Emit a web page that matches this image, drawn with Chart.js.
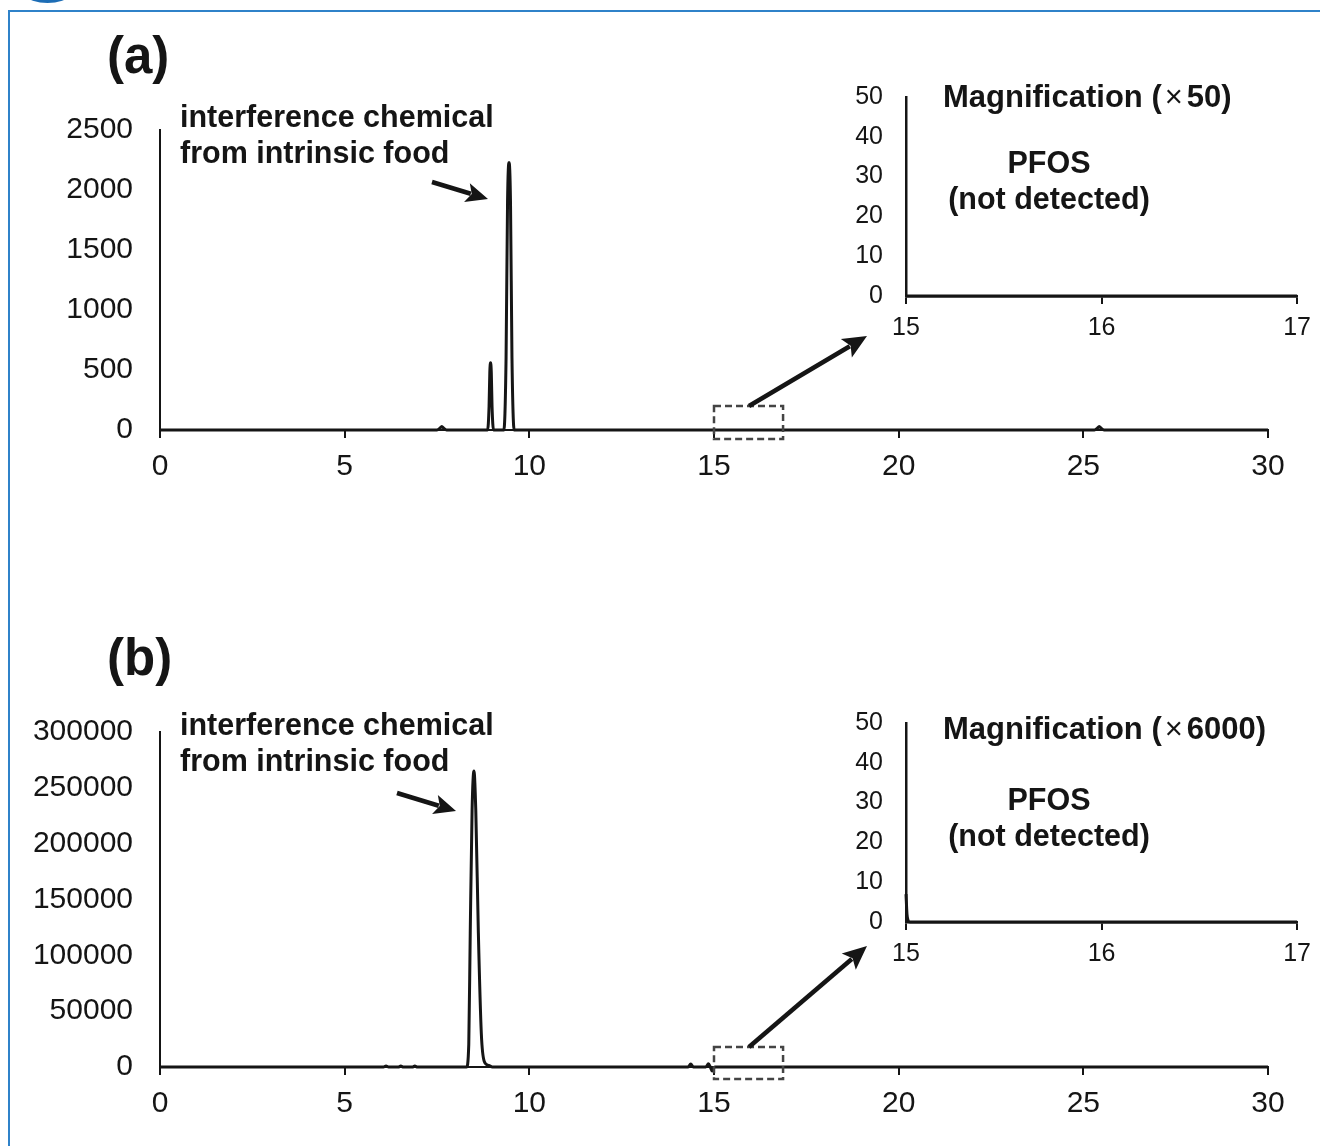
<!DOCTYPE html>
<html>
<head>
<meta charset="utf-8">
<script src="https://cdn.jsdelivr.net/npm/chart.js@4.4.1/dist/chart.umd.min.js"></script>
<style>
  html, body { margin: 0; padding: 0; background: #fff; }
  body { width: 1320px; height: 1146px; position: relative; overflow: hidden; }
  canvas { position: absolute; left: 0; top: 0; }
  #frame { position: absolute; left: 8px; top: 10px; width: 1400px; height: 1200px;
           border-left: 2px solid #2f82c9; border-top: 2px solid #2f82c9; }
  #blob { position: absolute; left: 28px; top: -10px; width: 39px; height: 13px;
          border-radius: 50%; background: #1d6db5; }
</style>
</head>
<body>
<div id="frame"></div>
<div id="blob"></div>
<canvas id="mainA" width="1320" height="1146"></canvas>
<canvas id="insetA" width="1320" height="1146"></canvas>
<canvas id="mainB" width="1320" height="1146"></canvas>
<canvas id="insetB" width="1320" height="1146"></canvas>
<script>
const FONT = '"Liberation Sans", Arial, sans-serif';
const INK = '#151515';

// tick labels
const xTicksMain = [0, 5, 10, 15, 20, 25, 30];
const xTicksInset = [15, 16, 17];
const yTicksA = [0, 500, 1000, 1500, 2000, 2500];
const yTicksB = [0, 50000, 100000, 150000, 200000, 250000, 300000];
const yTicksInset = [0, 10, 20, 30, 40, 50];

// (a) chromatogram, retention time (min) / intensity
const timeA = [0, 7.5, 7.58, 7.63, 7.68, 7.76, 8.87, 8.91, 8.93, 8.95, 8.97, 8.99, 9.03,
               9.31, 9.37, 9.41, 9.45, 9.49, 9.53, 9.59, 25.3, 25.38, 25.43, 25.48, 25.56, 30];
const intensityA = [0, 0, 15, 30, 15, 0, 0, 200, 480, 560, 480, 200, 0,
                    0, 600, 1900, 2230, 1900, 600, 0, 0, 15, 30, 15, 0, 0];

// (a) magnified window 15-17 min
const timeInsetA = [15, 16, 17];
const intensityInsetA = [0, 0, 0];

// (b) chromatogram
const timeB = [0, 6.05, 6.12, 6.19, 6.45, 6.52, 6.59, 6.83, 6.9, 6.97,
               8.3, 8.36, 8.4, 8.45, 8.5, 8.55, 8.62, 8.7, 8.78, 8.9, 9.0,
               14.3, 14.37, 14.44, 14.78, 14.85, 14.9, 14.95, 15.02, 30];
const intensityB = [0, 0, 900, 0, 0, 800, 0, 0, 800, 0,
                    0, 20000, 120000, 230000, 265000, 230000, 120000, 30000, 5000, 1500, 0,
                    0, 2700, 0, 0, 3000, 0, -3500, 0, 0];

// (b) magnified window 15-17 min
const timeInsetB = [15, 15.005, 15.01, 15.02, 16, 17];
const intensityInsetB = [7, 2, 0.5, 0, 0, 0];

function trace(times, values) {
  return times.map((t, i) => ({ x: t, y: values[i] }));
}

function arrow(ctx, x1, y1, x2, y2, w, head) {
  const a = Math.atan2(y2 - y1, x2 - x1);
  const bx = x2 - head * Math.cos(a), by = y2 - head * Math.sin(a);
  const hw = head * 0.45;
  ctx.save();
  ctx.strokeStyle = INK; ctx.fillStyle = INK; ctx.lineWidth = w;
  ctx.beginPath(); ctx.moveTo(x1, y1); ctx.lineTo(bx + Math.cos(a) * 4, by + Math.sin(a) * 4); ctx.stroke();
  ctx.beginPath();
  ctx.moveTo(x2, y2);
  ctx.lineTo(bx + hw * Math.sin(a), by - hw * Math.cos(a));
  ctx.lineTo(bx + 5 * Math.cos(a), by + 5 * Math.sin(a));
  ctx.lineTo(bx - hw * Math.sin(a), by + hw * Math.cos(a));
  ctx.closePath(); ctx.fill();
  ctx.restore();
}

function text(ctx, s, x, y, size, bold, align) {
  ctx.font = (bold ? 'bold ' : '') + size + 'px ' + FONT;
  ctx.textAlign = align || 'left';
  ctx.textBaseline = 'alphabetic';
  ctx.fillStyle = INK;
  ctx.fillText(s, x, y);
  return ctx.measureText(s).width;
}

function zoomBox(c, from, to, up, down) {
  const ctx = c.ctx;
  const x1 = c.scales.x.getPixelForValue(from), x2 = c.scales.x.getPixelForValue(to);
  const y0 = c.scales.y.getPixelForValue(0);
  ctx.save();
  ctx.strokeStyle = '#444'; ctx.lineWidth = 2.5; ctx.setLineDash([7, 4]);
  ctx.strokeRect(x1, y0 - up, x2 - x1, up + down);
  ctx.restore();
  return { top: y0 - up };
}

function magnification(ctx, factor, x, y) {
  let w = text(ctx, 'Magnification (', x, y, 31, true);
  x += w + 3;
  w = text(ctx, '\u00d7', x, y, 31, false);
  x += w + 4;
  text(ctx, factor + ')', x, y, 31, true);
}

function makeChart(id, o) {
  const W = 1320, H = 1146;
  return new Chart(document.getElementById(id), {
    type: 'line',
    data: {
      datasets: [{
        data: trace(o.times, o.values),
        borderColor: INK, borderWidth: 3, pointRadius: 0,
        cubicInterpolationMode: 'monotone', clip: false, fill: false
      }]
    },
    options: {
      responsive: false, animation: false, devicePixelRatio: 1, events: [],
      layout: { padding: { left: o.area.left - o.yW, top: o.area.top,
                           right: W - o.area.right, bottom: H - o.area.bottom - o.xH } },
      plugins: { legend: { display: false }, tooltip: { enabled: false } },
      scales: {
        x: {
          type: 'linear', min: o.xTicks[0], max: o.xTicks[o.xTicks.length - 1],
          afterBuildTicks: s => { s.ticks = o.xTicks.map(v => ({ value: v })); },
          afterFit: s => { s.height = o.xH; },
          grid: { display: true, drawOnChartArea: false, drawTicks: true, tickLength: 8, color: INK, lineWidth: 2 },
          border: { display: true, color: INK, width: o.axisW },
          ticks: { color: INK, font: { family: FONT, size: o.fs }, padding: o.xPad,
                   maxRotation: 0, autoSkip: false, callback: v => String(v) }
        },
        y: {
          type: 'linear', min: o.yTicks[0], max: o.yTicks[o.yTicks.length - 1],
          afterBuildTicks: s => { s.ticks = o.yTicks.map(v => ({ value: v })); },
          afterFit: s => { s.width = o.yW; },
          grid: { display: false },
          border: { display: true, color: INK, width: o.axisW },
          ticks: { color: INK, font: { family: FONT, size: o.fs }, padding: o.yPad,
                   autoSkip: false, callback: v => String(v) }
        }
      }
    },
    plugins: [{ id: 'notes', afterDraw: c => { if (o.notes) o.notes(c); } }]
  });
}

// panel (a)
makeChart('mainA', {
  times: timeA, values: intensityA, xTicks: xTicksMain, yTicks: yTicksA,
  area: { left: 160, top: 130, right: 1268, bottom: 430 },
  yW: 150, xH: 60, fs: 30, yPad: 19, xPad: 11, axisW: 2,
  notes: c => {
    const ctx = c.ctx;
    text(ctx, '(a)', 107, 73, 51, true);
    text(ctx, 'interference chemical', 180, 127, 30.5, true);
    text(ctx, 'from intrinsic food', 180, 163, 30.5, true);
    arrow(ctx, 432, 182, 488, 199, 4.5, 22);
    const box = zoomBox(c, 15, 16.87, 24, 9);
    arrow(ctx, 749, box.top, 867, 336, 4.5, 24);
  }
});

makeChart('insetA', {
  times: timeInsetA, values: intensityInsetA, xTicks: xTicksInset, yTicks: yTicksInset,
  area: { left: 906, top: 97, right: 1300, bottom: 296 },
  yW: 60, xH: 50, fs: 25, yPad: 15, xPad: 9, axisW: 2.5,
  notes: c => {
    const ctx = c.ctx;
    magnification(ctx, '50', 943, 107);
    text(ctx, 'PFOS', 1049, 173, 30.5, true, 'center');
    text(ctx, '(not detected)', 1049, 209, 30.5, true, 'center');
  }
});

// panel (b)
makeChart('mainB', {
  times: timeB, values: intensityB, xTicks: xTicksMain, yTicks: yTicksB,
  area: { left: 160, top: 732, right: 1268, bottom: 1067 },
  yW: 150, xH: 60, fs: 30, yPad: 19, xPad: 11, axisW: 2,
  notes: c => {
    const ctx = c.ctx;
    text(ctx, '(b)', 107, 675, 51, true);
    text(ctx, 'interference chemical', 180, 735, 30.5, true);
    text(ctx, 'from intrinsic food', 180, 771, 30.5, true);
    arrow(ctx, 397, 793, 456, 811, 4.5, 22);
    const box = zoomBox(c, 15, 16.87, 20, 12);
    arrow(ctx, 749, box.top, 867, 946, 4.5, 24);
  }
});

makeChart('insetB', {
  times: timeInsetB, values: intensityInsetB, xTicks: xTicksInset, yTicks: yTicksInset,
  area: { left: 906, top: 723, right: 1300, bottom: 922 },
  yW: 60, xH: 50, fs: 25, yPad: 15, xPad: 9, axisW: 2.5,
  notes: c => {
    const ctx = c.ctx;
    magnification(ctx, '6000', 943, 739);
    text(ctx, 'PFOS', 1049, 810, 30.5, true, 'center');
    text(ctx, '(not detected)', 1049, 846, 30.5, true, 'center');
  }
});
</script>
</body>
</html>
